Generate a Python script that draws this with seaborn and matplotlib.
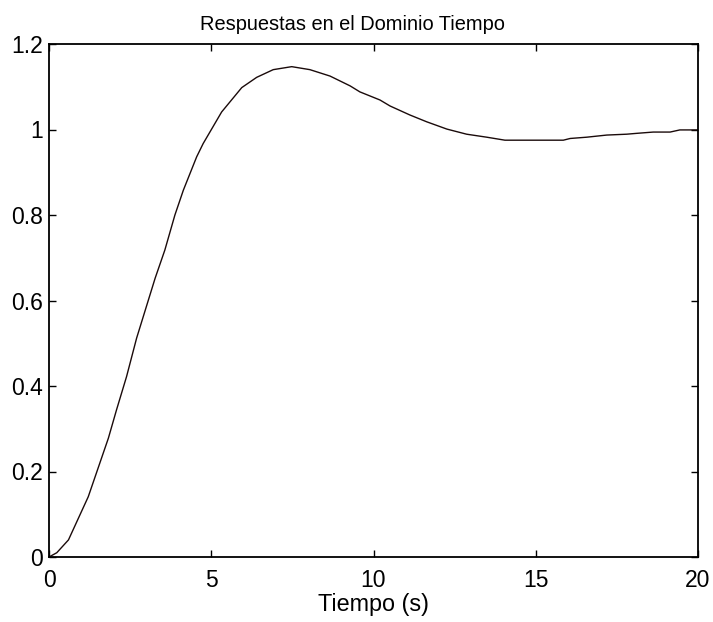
import matplotlib
matplotlib.use("Agg")
import matplotlib.pyplot as plt
import seaborn as sns
import pandas as pd

tiempo = [0.0, 0.24, 0.6, 1.21, 1.83, 2.08, 2.39, 2.70, 3.27, 3.57, 3.88, 4.14,
          4.55, 4.75, 5.32, 5.94, 6.40, 6.91, 7.48, 8.04, 8.66, 9.28, 9.58,
          10.20, 10.51, 11.12, 11.64, 12.26, 12.87, 13.49, 14.05, 15.85, 16.06,
          16.57, 17.19, 17.80, 18.11, 18.62, 19.14, 19.44, 20.0]
respuesta = [0.0, 0.01, 0.04, 0.141, 0.278, 0.344, 0.422, 0.512, 0.652, 0.718, 0.800, 0.858,
             0.936, 0.967, 1.041, 1.098, 1.122, 1.140, 1.147, 1.140, 1.125, 1.102, 1.088,
             1.069, 1.055, 1.034, 1.018, 1.001, 0.989, 0.982, 0.975, 0.975, 0.979,
             0.982, 0.987, 0.989, 0.991, 0.994, 0.994, 0.999, 0.999]
xticks = [0, 5, 10, 15, 20]
yticks = [0, 0.2, 0.4, 0.6, 0.8, 1, 1.2]
ytick_labels = ["0", "0.2", "0.4", "0.6", "0.8", "1", "1.2"]

sns.set_style("white")
plt.rcParams["font.family"] = ["Liberation Sans", "DejaVu Sans"]
plt.rcParams["text.color"] = "black"

df = pd.DataFrame({"t": tiempo, "y": respuesta})
fig = plt.figure(figsize=(7.13, 6.22), dpi=100)
ax = fig.add_axes([49/713, 1-557/622, (698-49)/713, (557-44)/622])
sns.lineplot(data=df, x="t", y="y", ax=ax, color="#1a0a0a", linewidth=1.0, sort=False)
ax.set_xlim(0, 20)
ax.set_ylim(0, 1.2)
ax.set_xticks(xticks)
ax.set_xticklabels([str(v) for v in xticks])
ax.set_yticks(yticks)
ax.set_yticklabels(ytick_labels)
ax.tick_params(direction="in", length=5, width=1, labelsize=16.5, top=True, right=True,
               bottom=True, left=True, colors="black", labelcolor="black")
ax.tick_params(axis="x", pad=8.5)
ax.tick_params(axis="y", pad=4.5)
for s in ax.spines.values():
    s.set_color("black")
    s.set_linewidth(1.3)
ax.set_xlabel("Tiempo (s)", fontsize=16.8, labelpad=1, color="black")
ax.set_ylabel("")
ax.set_title("Respuestas en el Dominio Tiempo", fontsize=14.4, pad=10, color="black", x=0.468)
fig.savefig("out.png", dpi=100)
